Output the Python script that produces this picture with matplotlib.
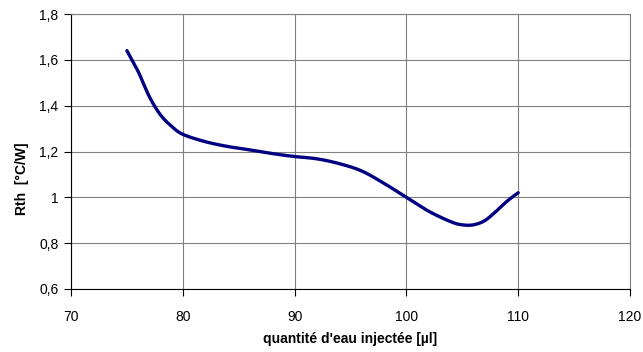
import numpy as np
import matplotlib
matplotlib.use("Agg")
import matplotlib.pyplot as plt
from matplotlib.ticker import FuncFormatter

plt.rcParams['font.family'] = ['Liberation Sans', 'DejaVu Sans']

# quantite d'eau injectee [ul] et resistance thermique [C/W]
volume = [75, 76, 77, 78, 79, 80, 82, 84, 86, 88, 90, 92, 94, 96, 98,
          100, 102, 104, 105, 106, 107, 108, 109, 110]
rth = [1.64, 1.55, 1.44, 1.36, 1.31, 1.275, 1.243, 1.222, 1.207, 1.191,
       1.178, 1.168, 1.147, 1.115, 1.061, 1.000, 0.939, 0.893, 0.880,
       0.880, 0.898, 0.938, 0.983, 1.020]

x_ticks = [70, 80, 90, 100, 110, 120]
y_ticks = [0.6, 0.8, 1.0, 1.2, 1.4, 1.6, 1.8]

# courbe lissee a travers les points (spline de Catmull-Rom)
def lisser(xs, ys, n=20):
    p = np.column_stack([xs, ys]).astype(float)
    p = np.vstack([p[0], p, p[-1]])
    out = []
    for i in range(1, len(p) - 2):
        p0, p1, p2, p3 = p[i - 1], p[i], p[i + 1], p[i + 2]
        for t in np.linspace(0, 1, n, endpoint=False):
            t2, t3 = t * t, t * t * t
            out.append(0.5 * ((2 * p1) + (-p0 + p2) * t +
                              (2 * p0 - 5 * p1 + 4 * p2 - p3) * t2 +
                              (-p0 + 3 * p1 - 3 * p2 + p3) * t3))
    out.append(p[-2])
    out = np.array(out)
    return out[:, 0], out[:, 1]

xs, ys = lisser(volume, rth)

fig = plt.figure(figsize=(6.43, 3.52), dpi=100)
ax = fig.add_axes([71 / 643, 1 - 289 / 352, 559 / 643, 275 / 352])

ax.plot(xs, ys, color='#000080', lw=2.4, solid_capstyle='round', zorder=3)

ax.set_xlim(70, 120)
ax.set_ylim(0.6, 1.8)
ax.set_xticks(x_ticks)
ax.set_yticks(y_ticks)
ax.yaxis.set_major_formatter(FuncFormatter(lambda v, p: ('%g' % round(v, 1)).replace('.', ',')))

ax.grid(True, color='#808080', lw=0.8)
ax.set_axisbelow(True)
for s in ['top', 'right']:
    ax.spines[s].set_color('#808080')
    ax.spines[s].set_linewidth(0.8)
for s in ['left', 'bottom']:
    ax.spines[s].set_color('black')
    ax.spines[s].set_linewidth(0.8)

ax.tick_params(axis='both', direction='out', length=5, width=0.8, labelsize=10)
ax.tick_params(axis='x', pad=10)
ax.tick_params(axis='y', pad=4)

ax.set_xlabel("quantité d'eau injectée [µl]", fontsize=10, fontweight='bold')
ax.xaxis.set_label_coords(0.5, -0.158)
ax.set_ylabel("Rth  [°C/W]", fontsize=10, fontweight='bold')
ax.yaxis.set_label_coords(-0.075, 0.40)

fig.savefig('out.png', dpi=100)
